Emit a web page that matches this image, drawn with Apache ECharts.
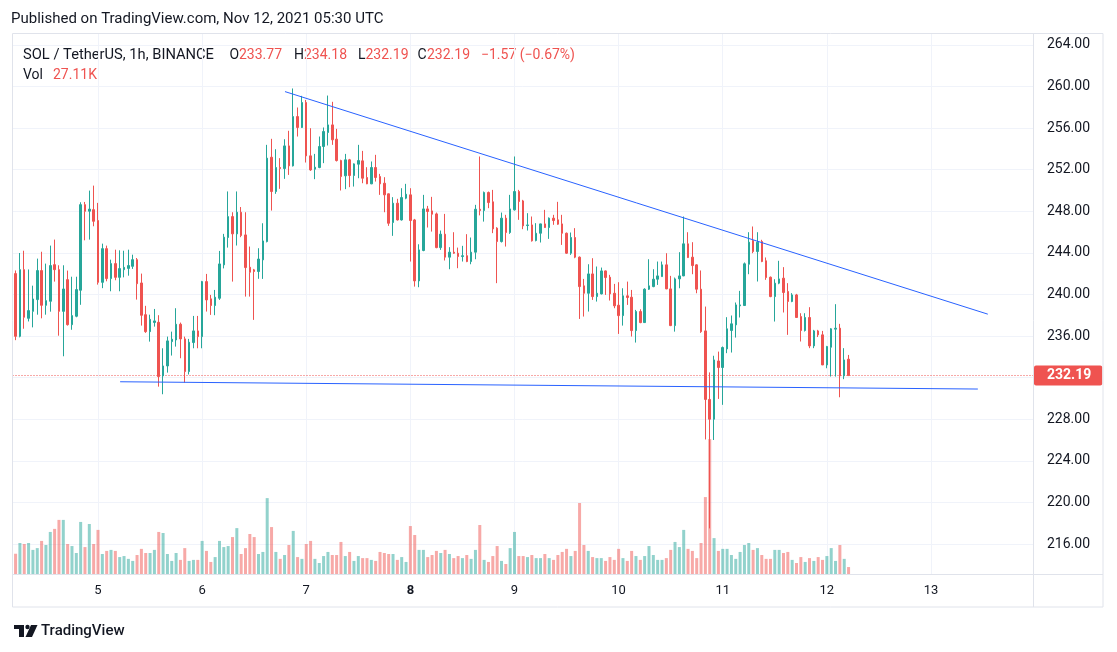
<!DOCTYPE html>
<html><head><meta charset="utf-8">
<script src="https://cdn.jsdelivr.net/npm/echarts@6/dist/echarts.min.js"></script>
<style>html,body{margin:0;padding:0;background:#fff}#c{width:1117px;height:652px}</style>
</head><body><div id="c"></div>
<script>
// ---- data (SOL/USDT 1h, Binance) ----
const startHour = -19; // first candle: Nov 4 05:00 UTC, hours relative to Nov 5 00:00
const opens = [242.0,235.97,242.38,237.7,238.37,239.5,242.29,238.95,239.34,242.86,242.38,238.37,241.42,237.09,237.9,240.4,248.63,248.0,248.15,247.1,241.16,244.4,241.52,242.96,241.64,242.38,242.5,242.7,243.34,241.1,238.05,236.42,237.3,237.32,232.16,233.12,235.46,235.62,237.13,235.72,232.58,235.37,236.49,235.94,241.23,239.57,238.93,239.63,242.84,245.47,247.48,245.82,247.9,245.72,242.61,242.36,242.2,243.32,245.08,253.19,249.89,252.2,252.1,254.28,252.36,257.1,256.05,258.45,253.32,252.04,252.2,254.22,255.57,256.3,254.93,252.87,251.4,252.94,251.43,252.52,252.84,251.24,250.63,252.2,251.33,250.69,249.67,246.91,248.77,247.16,249.25,249.57,247.16,241.3,244.22,248.22,248.03,247.74,244.5,245.79,243.58,244.06,243.96,243.64,243.72,243.16,244.06,248.19,248.06,249.8,248.9,246.37,245.08,247.33,245.95,248.13,249.89,248.99,246.62,246.68,245.18,245.88,246.78,246.43,247.33,247.17,246.78,245.88,243.96,245.47,243.58,240.82,240.11,241.97,239.79,240.05,242.26,241.65,240.11,238.96,237.96,239.86,239.73,236.52,238.35,237.29,240.5,240.75,241.46,241.71,242.84,240.53,237.0,241.49,241.78,244.86,243.58,242.84,240.5,236.49,229.9,228.0,233.6,232.97,234.76,236.53,237.07,238.9,238.93,242.9,245.18,244.12,245.09,243.23,241.65,239.79,241.08,241.56,240.28,239.32,239.95,237.87,236.53,237.78,235.05,236.49,236.11,233.22,234.92,236.66,236.75,232.17,233.77];
const highs = [242.3,243.98,244.2,242.4,240.84,243.44,244.1,242.96,244.69,245.27,242.8,242.8,242.29,241.7,241.7,248.86,248.89,249.98,250.46,248.8,244.88,244.69,243.34,244.3,244.24,244.2,244.3,243.82,243.5,242.0,238.9,238.05,238.6,238.0,234.82,235.94,236.42,238.67,237.29,235.94,235.72,237.93,237.93,241.3,241.97,239.95,240.43,244.18,245.82,249.9,247.9,249.9,248.4,247.9,244.6,242.45,244.44,246.84,254.38,254.96,253.96,253.1,254.92,255.73,259.8,257.97,259.09,258.7,255.98,253.51,255.18,256.05,259.12,258.52,255.92,252.95,253.51,253.03,252.6,254.38,253.8,252.23,252.78,253.42,251.59,251.27,249.7,249.35,249.19,250.21,250.63,250.21,247.26,244.82,249.57,248.51,249.38,247.87,246.14,247.74,244.54,245.98,244.5,244.67,245.79,245.47,248.61,253.26,249.89,249.89,250.05,246.46,247.87,247.65,249.57,253.26,250.05,249.09,247.81,247.49,246.85,246.8,248.13,247.4,247.65,248.9,247.65,245.95,245.95,246.37,243.65,241.49,242.9,243.48,242.68,242.58,242.3,241.88,241.01,241.17,240.59,241.23,240.43,238.51,238.57,240.59,243.38,242.42,243.16,243.16,243.96,241.78,241.62,244.06,247.49,245.98,245.02,242.9,242.3,238.83,232.5,234.1,234.5,234.99,237.81,237.97,239.22,240.34,243.07,245.98,246.53,245.98,245.25,243.55,241.72,241.46,243.23,242.62,241.08,240.12,240.05,238.19,238.19,238.77,236.59,236.59,236.49,235.05,236.75,239.06,237.17,234.83,234.18];
const lows = [235.6,235.87,236.7,237.4,236.83,238.05,237.7,238.05,238.34,241.23,236.03,234.05,237.0,236.6,237.8,239.0,245.2,245.27,246.55,240.94,240.6,241.26,240.3,241.36,240.3,241.64,241.8,242.45,239.5,237.0,236.3,235.46,236.9,231.13,230.4,232.48,234.12,234.98,233.86,231.52,232.3,234.82,234.82,234.82,238.35,238.03,238.0,239.47,242.5,244.5,241.23,244.7,245.5,239.79,239.79,237.55,241.5,241.49,245.0,248.06,249.67,250.15,251.11,251.49,252.3,255.18,256.0,252.68,251.88,251.08,252.13,252.62,254.32,254.38,252.78,249.99,250.12,250.31,250.37,251.17,250.69,250.6,250.6,250.85,249.57,247.9,246.59,245.63,247.1,247.1,249.15,243.16,240.75,240.69,244.15,246.43,246.04,244.44,244.28,243.26,242.42,243.9,242.52,243.16,243.1,242.9,243.38,247.6,247.0,248.29,245.89,241.08,244.99,244.6,245.82,248.06,247.17,246.27,246.14,245.08,245.1,244.99,246.4,245.34,246.69,246.69,244.76,243.9,243.8,243.48,237.64,237.87,238.35,239.47,239.31,240.0,239.95,239.41,238.67,236.2,237.0,238.99,235.95,235.37,237.23,237.25,240.43,240.69,240.91,241.7,240.5,236.95,236.42,240.59,241.75,243.5,241.94,240.11,236.3,226.05,217.5,226.0,229.95,229.38,234.35,234.41,235.85,237.78,238.9,241.94,243.96,241.24,243.1,241.4,239.73,237.39,240.98,238.26,236.11,239.25,237.75,235.47,236.43,234.83,234.83,235.9,233.2,232.9,232.1,232.1,230.11,231.85,232.19];
const closes = [235.97,242.38,237.8,238.44,239.56,242.29,238.95,239.4,242.77,242.38,238.37,240.52,237.09,237.96,240.46,248.63,247.99,248.2,247.03,241.16,244.4,241.52,242.96,241.64,242.48,242.6,242.77,243.34,241.03,237.99,236.42,237.6,237.45,232.1,233.12,235.53,235.69,237.13,235.72,232.58,235.4,236.49,235.94,241.23,239.47,238.93,239.73,242.93,245.5,247.48,245.82,247.9,245.66,242.58,242.13,242.2,243.4,245.14,253.1,249.89,252.2,252.1,254.28,252.36,257.1,256.05,258.45,253.32,251.97,252.23,254.22,255.66,256.3,254.86,252.87,251.33,252.94,251.43,252.55,252.87,251.17,250.63,252.2,251.24,250.63,249.57,246.84,248.77,247.16,249.31,249.63,247.1,241.3,244.28,248.22,247.97,247.71,244.5,245.79,243.58,244.06,243.96,243.64,243.72,243.16,244.06,248.19,248.06,249.8,248.83,246.3,245.08,247.33,245.95,248.22,249.89,248.93,246.59,246.68,245.15,245.88,246.78,246.43,247.33,247.1,246.75,245.88,243.96,245.47,243.58,240.75,240.11,241.97,239.79,240.11,242.26,241.62,240.05,238.9,237.96,239.86,239.7,236.52,238.35,237.29,240.5,240.82,241.46,241.78,242.84,240.53,237.0,241.49,241.78,244.86,243.54,242.77,240.5,236.42,229.9,228.0,233.7,232.97,234.89,236.69,237.17,238.99,238.99,242.94,245.02,244.12,245.02,243.16,241.62,239.79,241.08,241.49,240.18,239.32,239.95,237.78,236.53,237.78,235.05,236.49,236.11,233.22,234.99,236.69,236.75,232.17,233.7,232.19];
const volumesK = [79,121,117,121,94,101,129,113,164,176,211,211,117,109,82,203,105,195,117,172,78,90,94,90,66,70,59,51,74,98,82,82,94,164,160,78,51,82,55,101,51,55,55,129,90,47,66,129,105,109,144,179,78,101,156,144,78,86,296,183,86,59,74,113,168,66,59,117,129,59,43,70,86,74,74,125,70,86,51,70,62,62,55,51,86,82,78,78,55,66,47,187,152,94,94,66,74,90,82,94,78,62,70,62,74,59,94,191,55,47,70,109,51,39,101,164,70,70,66,74,62,62,78,62,55,74,86,98,70,90,277,113,90,66,62,62,51,66,55,98,62,51,90,70,55,70,109,74,55,55,62,94,125,105,172,98,90,62,121,300,526,140,90,98,98,74,59,86,113,121,94,101,74,59,59,94,94,82,86,55,43,66,47,62,51,66,55,70,101,51,113,59,27.11];
const dayHours = [0,24,48,72,96,120,144,168,192];
const dayLabels = ['5','6','7','8','9','10','11','12','13'];
const boldDay = '8';
const priceTicks = [216,220,224,228,232,236,240,244,248,252,256,260,264];
const resistanceLine = [[43.1,259.5],[205.1,238.1]];
const supportLine = [[5.1,231.6],[202.8,230.9]];
const lastPrice = 232.19;

// ---- layout ----
const FONT = 'Roboto, "Noto Sans", sans-serif';
const TXT = '#131722';
const UP = '#26a69a', DOWN = '#ef5350';
const UP_V = 'rgba(38,166,154,0.5)', DOWN_V = 'rgba(239,83,80,0.5)';
const plotL = 12.5, plotR = 1033, plotT = 34, plotB = 574;
const hour0X = 98, pxPerHour = 4.3385;
const y216 = 544, pxPerUnit = 10.4;
const xMin = (plotL - hour0X) / pxPerHour, xMax = (plotR - hour0X) / pxPerHour;
const yMin = 216 - (plotB - y216) / pxPerUnit, yMax = 216 + (y216 - plotT) / pxPerUnit;
const volH = 140, volMax = 546;

const candleData = opens.map((o, i) => [startHour + i, o, closes[i], lows[i], highs[i]]);
const volData = volumesK.map((v, i) => ({
  value: [startHour + i, v],
  itemStyle: { color: closes[i] >= opens[i] ? UP_V : DOWN_V }
}));

const chart = echarts.init(document.getElementById('c'), null, { renderer: 'canvas' });

const legendY = 55, volY = 75;
function t(x, y, text, fill, extra) {
  return Object.assign({ type: 'text', x, y, silent: true,
    style: Object.assign({ text, fill, font: '14px ' + FONT, verticalAlign: 'middle' }, extra || {}) });
}

chart.setOption({
  animation: false,
  backgroundColor: '#ffffff',
  grid: [
    { left: plotL, top: plotT, width: plotR - plotL, height: plotB - plotT },
    { left: plotL, top: plotB - volH, width: plotR - plotL, height: volH }
  ],
  xAxis: [
    { type: 'value', gridIndex: 0, min: xMin, max: xMax,
      axisLine: { show: false }, axisTick: { show: false, customValues: dayHours },
      axisLabel: { show: false },
      splitLine: { show: true, lineStyle: { color: '#f0f3fa', width: 1 } } },
    { type: 'value', gridIndex: 1, min: xMin, max: xMax,
      axisLine: { show: false }, axisTick: { show: false, customValues: dayHours },
      splitLine: { show: false },
      axisLabel: { show: true, customValues: dayHours, margin: 10, color: TXT, fontSize: 13, fontFamily: FONT,
        formatter: v => { const s = dayLabels[dayHours.indexOf(v)]; return s === boldDay ? '{b|' + s + '}' : s; },
        rich: { b: { fontWeight: 'bold', fontSize: 13, color: TXT, fontFamily: FONT } } } }
  ],
  yAxis: [
    { type: 'value', gridIndex: 0, position: 'right', min: yMin, max: yMax,
      axisLine: { show: false }, axisTick: { show: false, customValues: priceTicks },
      axisLabel: { customValues: priceTicks, margin: 14, color: TXT, fontSize: 14, fontFamily: FONT,
        formatter: v => v.toFixed(2) },
      splitLine: { show: true, lineStyle: { color: '#f0f3fa', width: 1 } } },
    { type: 'value', gridIndex: 1, min: 0, max: volMax, show: false, splitLine: { show: false } }
  ],
  series: [
    { type: 'bar', name: 'vol', xAxisIndex: 1, yAxisIndex: 1, data: volData, barWidth: 3, z: 1, silent: true },
    { type: 'candlestick', name: 'SOLUSDT', xAxisIndex: 0, yAxisIndex: 0, data: candleData,
      barWidth: 2, z: 3, silent: true,
      itemStyle: { color: UP, color0: DOWN, borderColor: UP, borderColor0: DOWN, borderColorDoji: UP, borderWidth: 1 },
      markLine: { silent: true, symbol: ['none', 'none'], animation: false, z: 2,
        lineStyle: { color: DOWN, type: [1, 2], width: 1 },
        label: { show: true, position: 'end', distance: 1, formatter: lastPrice.toFixed(2),
          backgroundColor: DOWN, color: '#fff', fontWeight: 'bold', fontSize: 14, fontFamily: FONT,
          padding: [3, 11, 3, 13], borderRadius: 2 },
        emphasis: { disabled: true },
        data: [{ yAxis: lastPrice }] } },
    { type: 'line', name: 'resistance', xAxisIndex: 0, yAxisIndex: 0, data: resistanceLine, symbol: 'none',
      lineStyle: { color: '#2962ff', width: 1 }, z: 5, silent: true },
    { type: 'line', name: 'support', xAxisIndex: 0, yAxisIndex: 0, data: supportLine, symbol: 'none',
      lineStyle: { color: '#2962ff', width: 1 }, z: 5, silent: true }
  ],
  graphic: [
    { type: 'rect', silent: true, z: 10, shape: { x: plotL, y: plotT - 0.5, width: 1103 - plotL, height: 607 - plotT + 0.5 },
      style: { fill: 'none', stroke: '#e0e3eb', lineWidth: 1 } },
    { type: 'line', silent: true, z: 10, shape: { x1: plotL, y1: plotB + 0.5, x2: 1103, y2: plotB + 0.5 }, style: { stroke: '#e0e3eb', lineWidth: 1 } },
    { type: 'line', silent: true, z: 10, shape: { x1: plotR + 0.5, y1: plotT, x2: plotR + 0.5, y2: 607 }, style: { stroke: '#e0e3eb', lineWidth: 1 } },
    t(11, 19, 'Published on TradingView.com, Nov 12, 2021 05:30 UTC', TXT, { font: '15px ' + FONT }),
    t(23, legendY, 'SOL / TetherUS, 1h, BINANCE', TXT, { font: '14.7px ' + FONT }),
    t(229.6, legendY, 'O', TXT), t(239, legendY, '233.77', DOWN),
    t(294, legendY, 'H', TXT), t(304, legendY, '234.18', DOWN),
    t(358, legendY, 'L', TXT), t(365.5, legendY, '232.19', DOWN),
    t(417.5, legendY, 'C', TXT), t(427, legendY, '232.19', DOWN),
    t(481, legendY, '\u22121.57 (\u22120.67%)', DOWN),
    t(23, volY, 'Vol', TXT), t(53, volY, '27.11K', DOWN),
    // TradingView logo
    { type: 'rect', silent: true, shape: { x: 14, y: 625, width: 10, height: 4 }, style: { fill: TXT } },
    { type: 'rect', silent: true, shape: { x: 19, y: 625, width: 5, height: 12 }, style: { fill: TXT } },
    { type: 'circle', silent: true, shape: { cx: 27.5, cy: 627, r: 2.2 }, style: { fill: TXT } },
    { type: 'polygon', silent: true, shape: { points: [[31, 625], [37.5, 625], [32, 637], [25.5, 637]] }, style: { fill: TXT } },
    t(41, 631, 'TradingView', TXT, { font: '500 15px ' + FONT })
  ]
});
</script></body></html>
